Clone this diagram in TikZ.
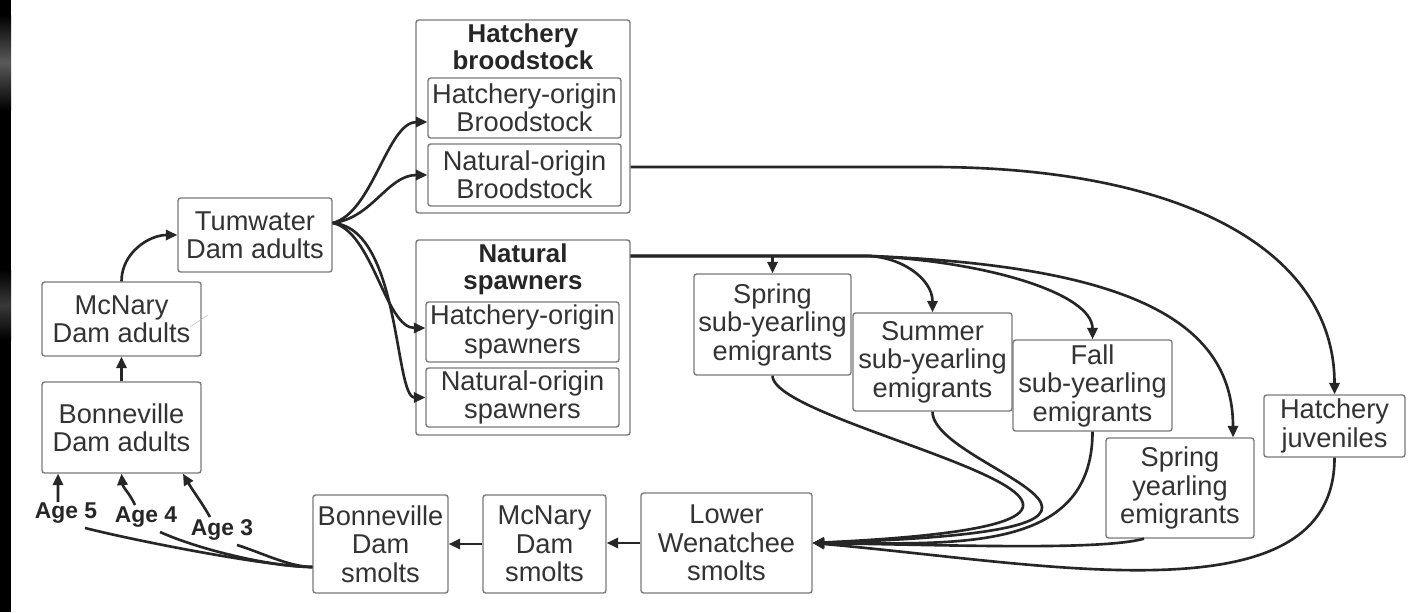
\documentclass[tikz,border=0pt]{standalone}
\usepackage{fontspec}
\setmainfont{Liberation Sans}
\usetikzlibrary{arrows.meta}
\definecolor{boxgray}{HTML}{7A7A7A}
\definecolor{txtgray}{HTML}{333333}
\definecolor{linecol}{HTML}{262626}
\newcommand{\boxfont}{\fontsize{15.5}{16.2}\selectfont}
\newcommand{\titlefont}{\fontsize{14.7}{15.3}\selectfont\bfseries}
\newcommand{\agefont}{\fontsize{13}{14}\selectfont\bfseries}

\begin{document}
\begin{tikzpicture}[x=0.02cm, y=-0.02cm,
  box/.style={draw=boxgray, line width=0.8pt, rounded corners=1.5pt, align=center, inner sep=0pt, text=txtgray, font=\boxfont},
  group/.style={draw=boxgray, line width=0.8pt, rounded corners=1.5pt, inner sep=0pt, minimum width=4.28cm},
  title/.style={align=center, inner sep=0pt, text=linecol, font=\titlefont},
  age/.style={inner sep=0pt, text=linecol, font=\agefont},
  arr/.style={draw=linecol, line width=1.5pt, -{Triangle[length=6.5pt,width=5.8pt]}},
  link/.style={draw=linecol, line width=1.5pt}]

\fill[white] (0,0) rectangle (1408,612);
\fill[black] (0,0) rectangle (11,612);
\shade[top color=black, bottom color=black, middle color=gray!70!black] (0,15) rectangle (11,110);
\shade[top color=black, bottom color=black, middle color=gray!45!black] (0,270) rectangle (11,340);
\useasboundingbox (0,0) rectangle (1408,612);

\node[group, minimum height=3.86cm] (hbrood) at (523,116.5) {};
\node[title] (hbroodt) at (523,47) {Hatchery\\broodstock};
\node[box, minimum width=3.86cm, minimum height=1.2cm] (hob) at (524.5,108) {Hatchery-origin\\Broodstock};
\node[box, minimum width=3.86cm, minimum height=1.24cm] (nob) at (524.5,175) {Natural-origin\\Broodstock};
\node[group, minimum height=3.9cm] (nspawn) at (523,337.5) {};
\node[title] (nspawnt) at (523,269) {Natural\\spawners};
\node[box, minimum width=3.86cm, minimum height=1.2cm] (hos) at (522.5,332) {Hatchery-origin\\spawners};
\node[box, minimum width=3.86cm, minimum height=1.18cm] (nos) at (522.5,397.5) {Natural-origin\\spawners};

\node[box, minimum width=3.08cm, minimum height=1.48cm] (tum) at (255,235) {Tumwater\\Dam adults};
\node[box, minimum width=3.18cm, minimum height=1.48cm] (mad) at (121.5,319) {McNary\\Dam adults};
\node[box, minimum width=3.18cm, minimum height=1.82cm] (bad) at (121.5,427.5) {Bonneville\\Dam adults};
\node[box, minimum width=2.7cm, minimum height=1.96cm] (bsm) at (380.5,544) {Bonneville\\Dam\\smolts};
\node[box, minimum width=2.46cm, minimum height=1.96cm] (msm) at (544.5,544) {McNary\\Dam\\smolts};
\node[box, minimum width=3.42cm, minimum height=2cm] (lws) at (726.5,543) {Lower\\Wenatchee\\smolts};
\node[box, minimum width=3.14cm, minimum height=2.02cm] (spsub) at (772.5,324.5) {Spring\\sub-yearling\\emigrants};
\node[box, minimum width=3.18cm, minimum height=1.96cm] (sumsub) at (932.5,362) {Summer\\sub-yearling\\emigrants};
\node[box, minimum width=3.18cm, minimum height=1.82cm] (fallsub) at (1092.5,385.5) {Fall\\sub-yearling\\emigrants};
\node[box, minimum width=2.96cm, minimum height=2cm] (spyr) at (1180,488) {Spring\\yearling\\emigrants};
\node[box, minimum width=2.82cm, minimum height=1.24cm] (hjuv) at (1334.5,426) {Hatchery\\juveniles};

\node[age] (age5) at (66,513) {Age 5};
\node[age] (age4) at (146,517) {Age 4};
\node[age] (age3) at (222,530) {Age 3};

\draw[gray!55, line width=0.3pt] (190,327) -- (208,315);

\draw[arr] (bad.north) -- (mad.south);
\draw[arr] (mad.north) to[out=90,in=180] (tum.west);

\coordinate (tumout) at ([yshift=0.24cm]tum.east);
\draw[arr] (tumout) .. controls +(40,-10) and +(-40,0) .. ([yshift=-0.28cm]hob.west);
\draw[arr] (tumout) .. controls +(40,-5) and +(-40,0) .. (nob.west);
\draw[arr] (tumout) .. controls +(40,8) and +(-40,0) .. ([yshift=0.08cm]hos.west);
\draw[arr] (tumout) .. controls +(68,5) and +(-31,0) .. (nos.west);

\draw[arr] ([yshift=-1.01cm]hbrood.east) -- +(300,0) .. controls +(250,0) and +(0,-145) .. (hjuv.north);

\coordinate (nspout) at ([yshift=1.63cm]nspawn.east);
\draw[arr] (nspout) -| (spsub.north);
\draw[arr] (nspout) -- +(235,0) to[out=0,in=90] (sumsub.north);
\draw[arr] (nspout) -- +(240,0) .. controls +(120,6) and +(0,-45) .. (fallsub.north);
\draw[arr] (nspout) -- +(240,0) .. controls +(250,10) and +(0,-120) .. ([xshift=1.06cm]spyr.north);

\draw[arr] (spsub.south) .. controls +(0,55) and +(488,-23) .. (lws.east);
\draw[arr] (sumsub.south) .. controls +(0,59) and +(428,-13) .. (lws.east);
\draw[arr] (fallsub.south) .. controls +(0,124) and +(138,0) .. (lws.east);
\draw[arr] ([xshift=-0.72cm]spyr.south) .. controls +(-44,12) and +(138,2) .. (lws.east);
\draw[arr] (hjuv.south) .. controls +(0,165) and +(230,20) .. (lws.east);

\draw[arr] (lws.west) -- (lws.west -| msm.east);
\draw[arr] (msm.west) -- (msm.west -| bsm.east);

\coordinate (bsmout) at ([yshift=-0.46cm]bsm.west);
\draw[link] (bsmout) .. controls +(-40,0) and +(60,15) .. ([xshift=0.38cm,yshift=-0.3cm]age5.center);
\draw[link] (bsmout) .. controls +(-40,0) and +(40,18) .. ([xshift=0.28cm,yshift=-0.3cm]age4.center);
\draw[link] (bsmout) .. controls +(-23,0) and +(23,7) .. ([xshift=0.3cm,yshift=-0.3cm]age3.center);

\coordinate (a5top) at ([xshift=-0.16cm,yshift=0.22cm]age5.center);
\draw[arr] (a5top) -- ([xshift=-1.27cm]bad.south);
\draw[arr] ([xshift=-0.22cm,yshift=0.24cm]age4.center) to[out=115,in=-85] (bad.south);
\draw[arr] ([xshift=-0.24cm,yshift=0.26cm]age3.center) to[out=120,in=-60] ([xshift=1.23cm]bad.south);
\end{tikzpicture}
\end{document}
